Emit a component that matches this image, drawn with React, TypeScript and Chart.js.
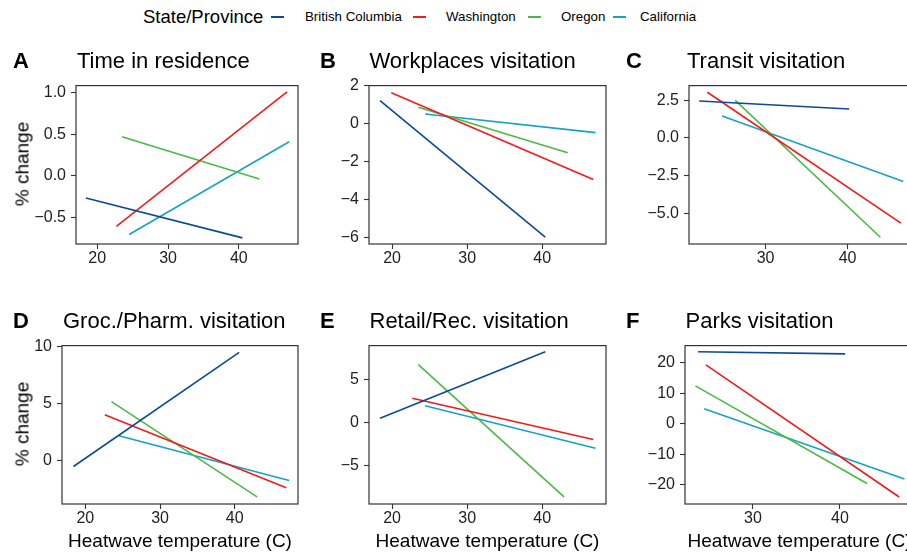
import React, { useEffect, useRef } from "react";
import { Chart, registerables } from "chart.js";

Chart.register(...registerables);

// ---------- data ----------
const states = ["British Columbia", "Washington", "Oregon", "California"];
const stateColors = ["#0c4a94", "#ee1c1c", "#4cb944", "#17a2c4"];

const panelLetters = ["A", "B", "C", "D", "E", "F"];
const panelTitles = [
  "Time in residence",
  "Workplaces visitation",
  "Transit visitation",
  "Groc./Pharm. visitation",
  "Retail/Rec. visitation",
  "Parks visitation",
];

// [start, end] heatwave temperature per state (BC, WA, OR, CA)
const residenceX = [[18.4, 40.5], [22.7, 46.8], [23.5, 42.9], [24.5, 47.1]];
const residenceY = [[-0.27, -0.75], [-0.61, 1.01], [0.47, -0.04], [-0.71, 0.41]];

const workplacesX = [[18.4, 40.4], [19.9, 46.8], [23.5, 43.4], [24.4, 47.1]];
const workplacesY = [[1.22, -6.0], [1.64, -2.95], [0.88, -1.53], [0.52, -0.47]];

const transitX = [[21.9, 40.2], [22.9, 46.5], [26.3, 44.0], [24.7, 46.8]];
const transitY = [[2.46, 1.93], [3.04, -5.65], [2.5, -6.59], [1.46, -2.89]];

const grocX = [[18.4, 40.6], [22.6, 46.9], [23.5, 43.0], [24.5, 47.3]];
const grocY = [[-0.48, 9.46], [4.03, -2.33], [5.17, -3.13], [2.19, -1.7]];

const retailX = [[18.4, 40.4], [22.7, 46.8], [23.5, 42.9], [24.4, 47.1]];
const retailY = [[0.49, 8.18], [2.8, -1.97], [6.7, -8.6], [1.93, -2.99]];

const parksX = [[23.7, 40.6], [24.6, 46.8], [23.4, 43.1], [24.4, 47.4]];
const parksY = [[23.6, 22.9], [19.3, -24.0], [12.4, -19.6], [4.9, -18.1]];

// tick values
const xTicksWide = [20, 30, 40];
const xTicksNarrow = [30, 40];
const residenceTicks = [-0.5, 0, 0.5, 1.0];
const workplacesTicks = [-6, -4, -2, 0, 2];
const transitTicks = [-5, -2.5, 0, 2.5];
const grocTicks = [0, 5, 10];
const retailTicks = [-5, 0, 5];
const parksTicks = [-20, -10, 0, 10, 20];

// axis limits
const residenceXLim = [17.0, 48.35];
const workplacesXLim = [16.93, 48.49];
const transitXLim = [20.66, 48.1];
const grocXLim = [16.87, 48.48];
const retailXLim = [16.93, 48.49];
const parksXLim = [22.2, 48.5];

const residenceYLim = [-0.824, 1.087];
const workplacesYLim = [-6.36, 2.02];
const transitYLim = [-7.04, 3.48];
const grocYLim = [-3.75, 10.05];
const retailYLim = [-9.43, 8.9];
const parksYLim = [-26.3, 25.6];

// ---------- layout ----------
const FONT = "'Liberation Sans', Arial, sans-serif";
const TICK_SIZE = 16;
const PAD_L = 60;
const PAD_T = 12;
const PAD_R = 10;
const PAD_B = 30;

type PanelDef = {
  xs: number[][];
  ys: number[][];
  xTicks: number[];
  yTicks: number[];
  yDecimals: number;
  xLim: number[];
  yLim: number[];
  box: { left: number; top: number; w: number; h: number };
  letterLeft: number;
  titleLeft: number;
  titleY: number;
  bottomRow: boolean;
  leftCol: boolean;
};

const panelDefs: PanelDef[] = [
  { xs: residenceX, ys: residenceY, xTicks: xTicksWide, yTicks: residenceTicks, yDecimals: 1, xLim: residenceXLim, yLim: residenceYLim,
    box: { left: 76, top: 83, w: 222, h: 161 }, letterLeft: 13, titleLeft: 77, titleY: 60.7, bottomRow: false, leftCol: true },
  { xs: workplacesX, ys: workplacesY, xTicks: xTicksWide, yTicks: workplacesTicks, yDecimals: 0, xLim: workplacesXLim, yLim: workplacesYLim,
    box: { left: 369, top: 83, w: 237, h: 161 }, letterLeft: 320, titleLeft: 369.5, titleY: 60.7, bottomRow: false, leftCol: false },
  { xs: transitX, ys: transitY, xTicks: xTicksNarrow, yTicks: transitTicks, yDecimals: 1, xLim: transitXLim, yLim: transitYLim,
    box: { left: 689, top: 83, w: 225, h: 161 }, letterLeft: 626, titleLeft: 687, titleY: 60.7, bottomRow: false, leftCol: false },
  { xs: grocX, ys: grocY, xTicks: xTicksWide, yTicks: grocTicks, yDecimals: 0, xLim: grocXLim, yLim: grocYLim,
    box: { left: 62, top: 343, w: 236, h: 161 }, letterLeft: 13, titleLeft: 63, titleY: 320.7, bottomRow: true, leftCol: true },
  { xs: retailX, ys: retailY, xTicks: xTicksWide, yTicks: retailTicks, yDecimals: 0, xLim: retailXLim, yLim: retailYLim,
    box: { left: 369, top: 343, w: 237, h: 161 }, letterLeft: 320, titleLeft: 369.5, titleY: 320.7, bottomRow: true, leftCol: false },
  { xs: parksX, ys: parksY, xTicks: xTicksNarrow, yTicks: parksTicks, yDecimals: 0, xLim: parksXLim, yLim: parksYLim,
    box: { left: 685, top: 343, w: 229, h: 161 }, letterLeft: 626, titleLeft: 685.5, titleY: 320.7, bottomRow: true, leftCol: false },
];

function fmt(v: number, dec: number) {
  const s = Math.abs(v).toFixed(dec);
  return v < -1e-9 ? "\u2212" + s : s;
}

const framePlugin = {
  id: "frame",
  afterDatasetsDraw(chart: any) {
    const { ctx, chartArea: a } = chart;
    ctx.save();
    ctx.strokeStyle = "#333333";
    ctx.lineWidth = 1.2;
    ctx.strokeRect(a.left, a.top, a.right - a.left, a.bottom - a.top);
    ctx.restore();
  },
};

function Panel({ def }: { def: PanelDef }) {
  const ref = useRef<HTMLCanvasElement | null>(null);
  const cw = def.box.w + PAD_L + PAD_R;
  const ch = def.box.h + PAD_T + PAD_B;

  useEffect(() => {
    if (!ref.current) return;
    const datasets = states.map((s, i) => ({
      label: s,
      data: def.xs[i].map((x, j) => ({ x, y: def.ys[i][j] })),
      borderColor: stateColors[i],
      backgroundColor: stateColors[i],
      borderWidth: 1.6,
      pointRadius: 0,
      showLine: true,
      fill: false,
    }));
    const chart = new Chart(ref.current, {
      type: "scatter",
      data: { datasets },
      plugins: [framePlugin],
      options: {
        animation: false,
        responsive: false,
        maintainAspectRatio: false,
        font: { family: FONT, size: TICK_SIZE },
        layout: { padding: { left: 0, top: PAD_T, right: PAD_R, bottom: 0 } },
        plugins: { legend: { display: false }, tooltip: { enabled: false } },
        scales: {
          x: {
            type: "linear",
            min: def.xLim[0],
            max: def.xLim[1],
            afterFit: (s: any) => { s.height = PAD_B; },
            afterBuildTicks: (s: any) => { s.ticks = def.xTicks.map((v) => ({ value: v })); },
            grid: { display: true, drawOnChartArea: false, drawTicks: true, tickLength: 5, tickColor: "#333333", tickWidth: 1.1 },
            border: { display: false },
            ticks: { color: "#222222", font: () => ({ family: FONT, size: TICK_SIZE }), padding: 0, maxRotation: 0, autoSkip: false,
              callback: (v: any) => fmt(Number(v), 0) },
          },
          y: {
            type: "linear",
            min: def.yLim[0],
            max: def.yLim[1],
            afterFit: (s: any) => { s.width = PAD_L; },
            afterBuildTicks: (s: any) => { s.ticks = def.yTicks.map((v) => ({ value: v })); },
            grid: { display: true, drawOnChartArea: false, drawTicks: true, tickLength: 5, tickColor: "#333333", tickWidth: 1.1 },
            border: { display: false },
            ticks: { color: "#222222", font: () => ({ family: FONT, size: TICK_SIZE }), padding: 5, autoSkip: false,
              callback: (v: any) => fmt(Number(v), def.yDecimals) },
          },
        },
      } as any,
    });
    return () => chart.destroy();
  }, [def]);

  return (
    <canvas
      ref={ref}
      width={cw}
      height={ch}
      style={{ position: "absolute", left: def.box.left - PAD_L, top: def.box.top - PAD_T, width: cw, height: ch }}
    />
  );
}

const textBase: React.CSSProperties = {
  position: "absolute",
  whiteSpace: "nowrap",
  lineHeight: "1",
  fontFamily: FONT,
  color: "#000",
};

const legendKeyLefts = [271, 413, 528, 613];
const legendLabelLefts = [305, 446, 561, 640];

export default function App() {
  return (
    <div style={{ position: "fixed", left: 0, top: 0, width: 907, height: 553, overflow: "hidden", background: "#fff" }}>
      {/* legend */}
      <div style={{ ...textBase, left: 143, top: 17.3, fontSize: 18.5, transform: "translateY(-50%)" }}>State/Province</div>
      {states.map((s, i) => (
        <React.Fragment key={s}>
          <div style={{ position: "absolute", left: legendKeyLefts[i], top: 16, width: 13, height: 2, background: stateColors[i] }} />
          <div style={{ ...textBase, left: legendLabelLefts[i], top: 17.3, fontSize: 13.3, transform: "translateY(-50%)" }}>{s}</div>
        </React.Fragment>
      ))}

      {panelDefs.map((d, i) => (
        <React.Fragment key={i}>
          <Panel def={d} />
          <div style={{ ...textBase, left: d.letterLeft, top: d.titleY, fontSize: 22, fontWeight: 700, transform: "translateY(-50%)" }}>
            {panelLetters[i]}
          </div>
          <div style={{ ...textBase, left: d.titleLeft, top: d.titleY, fontSize: 22, transform: "translateY(-50%)" }}>
            {panelTitles[i]}
          </div>
          {d.leftCol && (
            <div style={{ ...textBase, left: 21.5, top: d.box.top + d.box.h / 2, fontSize: 19, transform: "translate(-50%, -50%) rotate(-90deg)" }}>
              % change
            </div>
          )}
          {d.bottomRow && (
            <div style={{ ...textBase, left: d.box.left + d.box.w / 2, top: 540, fontSize: 19, transform: "translate(-50%, -50%)" }}>
              Heatwave temperature (C)
            </div>
          )}
        </React.Fragment>
      ))}
    </div>
  );
}
